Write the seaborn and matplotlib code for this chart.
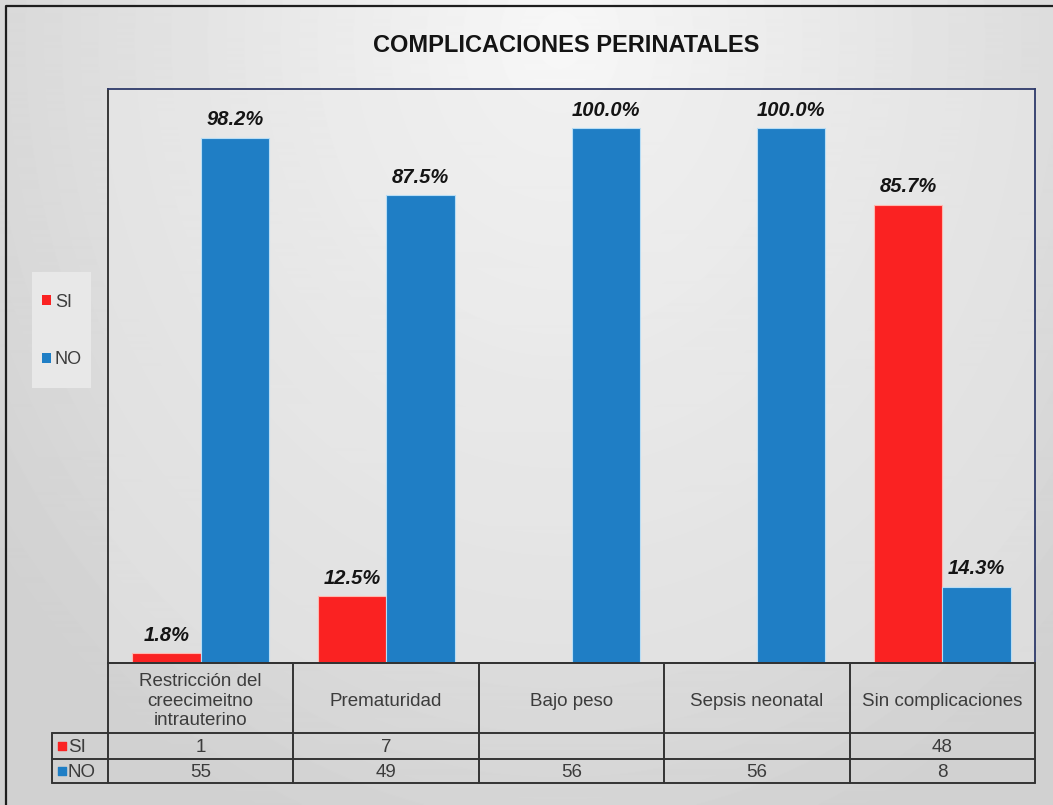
import numpy as np
import pandas as pd
import matplotlib
matplotlib.use("Agg")
import matplotlib.pyplot as plt
import seaborn as sns
from matplotlib.patches import Patch, Rectangle

# ---------------- data ----------------
categories = ["Restricción del\ncreecimeitno\nintrauterino", "Prematuridad",
              "Bajo peso", "Sepsis neonatal", "Sin complicaciones"]
series = ["SI", "NO"]
si_pct = [1.8, 12.5, 0.0, 0.0, 85.7]
no_pct = [98.2, 87.5, 100.0, 100.0, 14.3]
si_counts = [1, 7, None, None, 48]
no_counts = [55, 49, 56, 56, 8]
title = "COMPLICACIONES PERINATALES"

RED = "#FA2222"
BLUE = "#1F7EC5"
TXT = "#3C3C3C"

df = pd.DataFrame({
    "cat": categories * 2,
    "serie": ["SI"] * 5 + ["NO"] * 5,
    "pct": si_pct + no_pct,
})

sns.set_theme(style="white")
plt.rcParams["font.family"] = ["Liberation Sans", "DejaVu Sans"]

W, H = 1053, 805
fig = plt.figure(figsize=(W / 100, H / 100), dpi=100)

# background gradient
bg = fig.add_axes([0, 0, 1, 1], zorder=-10)
yy, xx = np.mgrid[0:H, 0:W]
d = np.sqrt(((xx - 560) / 700.0) ** 2 + ((yy - 40) / 850.0) ** 2)
img = 0.97 - 0.15 * np.clip(d, 0, 1)
bg.imshow(img, cmap="gray", vmin=0, vmax=1, extent=[0, W, H, 0], aspect="auto")
bg.set_xlim(0, W)
bg.set_ylim(H, 0)
bg.axis("off")
# outer border (left + top)
bg.plot([6, 6, W + 5], [H + 5, 6, 6], color="#1E1E1E", lw=1.6, clip_on=False)
# legend background box
bg.add_patch(Rectangle((32, 272), 59, 116, facecolor="#E8E8E8", edgecolor="none"))


def fx(px):
    return px / W


def fy(py):
    return 1 - py / H


PL, PR, PT, PB = 108, 1035, 89, 663
ax = fig.add_axes([fx(PL), fy(PB), fx(PR) - fx(PL), fy(PT) - fy(PB)])
ax.set_facecolor((0.92, 0.92, 0.92, 0.45))

sns.barplot(data=df, x="cat", y="pct", hue="serie", hue_order=series,
            palette=[RED, BLUE], width=0.74, saturation=1, legend=False,
            ax=ax, edgecolor=None, linewidth=0)
for cont, col in zip(ax.containers, ["#FFB8B0", "#B8DDF5"]):
    for bar in cont:
        bar.set_edgecolor(col)
        bar.set_linewidth(0.8)

ax.set_xlim(-0.5, 4.5)
ax.set_ylim(0, 107.3)
ax.set_xticks([])
ax.set_yticks([])
ax.set_xlabel("")
ax.set_ylabel("")
for s in ["top", "right"]:
    ax.spines[s].set_color("#2E3A6A")
    ax.spines[s].set_linewidth(1.3)
for s in ["left", "bottom"]:
    ax.spines[s].set_color("#2A2A2A")
    ax.spines[s].set_linewidth(1.3)

for cont, vals in zip(ax.containers, [si_pct, no_pct]):
    labels = [f"{v:.1f}%" if v > 0 else "" for v in vals]
    ax.bar_label(cont, labels=labels, padding=6, fontsize=14.5,
                 fontweight="bold", fontstyle="italic", color="#141414")

# ---------------- data table ----------------
TL, TB = 52, 783
gw = (PR - PL) / 5.0
x0 = -0.5 - (PL - TL) / gw
tax = fig.add_axes([fx(TL), fy(TB), fx(PR) - fx(TL), fy(PB) - fy(TB)])
tax.set_xlim(x0, 4.5)
tax.set_ylim(TB - PB, 0)
tax.axis("off")
tax.patch.set_alpha(0)

r1, r2, r3 = 70, 96, 120
lc, lw = "#333333", 1.4
tax.plot([-0.5, 4.5], [0, 0], color=lc, lw=lw, clip_on=False)
for yv in (r1, r2, r3):
    tax.plot([x0, 4.5], [yv, yv], color=lc, lw=lw, clip_on=False)
for i in range(6):
    xv = -0.5 + i
    tax.plot([xv, xv], [0, r3], color=lc, lw=lw, clip_on=False)
tax.plot([x0, x0], [r1, r3], color=lc, lw=lw, clip_on=False)

FS = 13.5
for i, c in enumerate(categories):
    tax.text(i, r1 / 2 + 3, c, ha="center", va="center", fontsize=FS,
             color=TXT, linespacing=1.18)
for i, (s, n) in enumerate(zip(si_counts, no_counts)):
    if s is not None:
        tax.text(i, (r1 + r2) / 2 + 1, str(s), ha="center", va="center",
                 fontsize=FS, color=TXT)
    if n is not None:
        tax.text(i, (r2 + r3) / 2 + 1, str(n), ha="center", va="center",
                 fontsize=FS, color=TXT)

kx = x0 + 10 / gw
for (lab, col, yc) in [("SI", RED, (r1 + r2) / 2), ("NO", BLUE, (r2 + r3) / 2)]:
    tax.scatter([kx], [yc], marker="s", s=30, color=col, zorder=5, clip_on=False)
    tax.text(kx + 6 / gw, yc + 1, lab, ha="left", va="center", fontsize=FS,
             color=TXT)

# ---------------- legend ----------------
handles = [Patch(facecolor=RED, edgecolor="none"), Patch(facecolor=BLUE, edgecolor="none")]
leg = fig.legend(handles, series, loc="center", bbox_to_anchor=(fx(62), fy(331)),
                 frameon=False, handlelength=0.5, handleheight=0.5, handletextpad=0.2,
                 labelspacing=2.25, fontsize=13, borderpad=0.2)
for t in leg.get_texts():
    t.set_color(TXT)

# ---------------- title ----------------
fig.text(fx(566), fy(45), title, ha="center", va="center", fontsize=17,
         fontweight="bold", color="#141414")

fig.savefig("out.png", dpi=100)
